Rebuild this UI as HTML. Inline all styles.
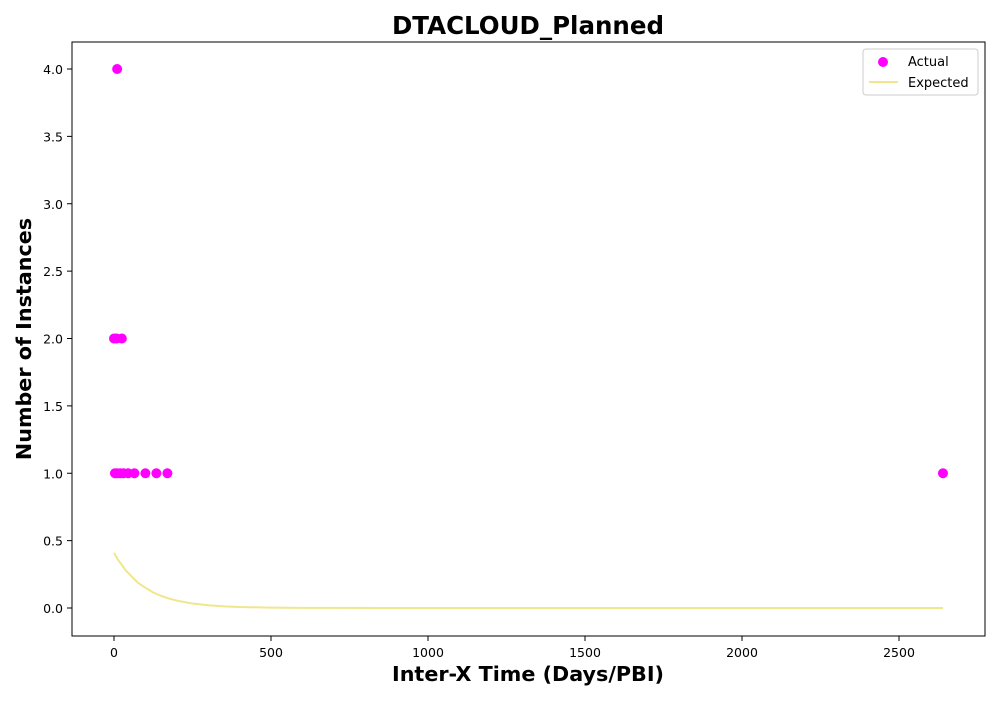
<!DOCTYPE html>
<html><head><meta charset="utf-8"><style>
body{margin:0;background:#fff;font-family:"DejaVu Sans","Liberation Sans",sans-serif}
</style></head><body>
<svg id="chart" width="1000" height="700" xmlns="http://www.w3.org/2000/svg">
<rect width="1000" height="700" fill="#fff"/>
<text x="528" y="34" text-anchor="middle" font-size="24.5" font-weight="bold">DTACLOUD_Planned</text>
<text x="528" y="681" text-anchor="middle" font-size="20.7" font-weight="bold">Inter-X Time (Days/PBI)</text>
<text transform="translate(31,339) rotate(-90)" text-anchor="middle" font-size="20.7" font-weight="bold">Number of Instances</text>
<g id="xticks"></g>
<g id="yticks"></g>
<g id="marks"></g>
<rect x="72" y="42" width="913" height="594" fill="none" stroke="#000" stroke-width="1"/>
<g>
<rect x="863" y="49" width="115" height="46" fill="#fff" stroke="#ccc" rx="3"/>
<circle cx="883" cy="62" r="5" fill="#ff00ff"/>
<text x="908" y="66" font-size="13">Actual</text>
<line x1="869" y1="82" x2="898" y2="82" stroke="#f0e68c" stroke-width="2"/>
<text x="908" y="87" font-size="13">Expected</text>
</g>
</svg>
<script>
const actualX=[0,8,25,10,3,10,20,30,45,65,100,135,170,2640];
const actualY=[2,2,2,4,1,1,1,1,1,1,1,1,1,1];
const expX=[0,12,25,37,50,62,75,87,100,125,150,175,200,250,300,350,400,500,600,700,1000,1500,2000,2640];
const expY=[0.41,0.36,0.32,0.28,0.25,0.22,0.19,0.17,0.15,0.115,0.09,0.07,0.055,0.033,0.02,0.012,0.007,0.003,0.0012,0.0005,0,0,0,0];
const xTicks=[0,500,1000,1500,2000,2500];
const yTicks=[0,0.5,1,1.5,2,2.5,3,3.5,4];
const sx=v=>114+v*0.314;
const sy=v=>608-v*134.75;
const NS="http://www.w3.org/2000/svg";
function mk(t,a,p){const e=document.createElementNS(NS,t);for(const k in a)e.setAttribute(k,a[k]);p.appendChild(e);return e;}
const gx=document.getElementById('xticks'),gy=document.getElementById('yticks'),gm=document.getElementById('marks');
xTicks.forEach(v=>{
 const l=mk('line',{x1:sx(v),x2:sx(v),y1:636,y2:641,stroke:'#000'},gx);
 
 
 const t=mk('text',{x:sx(v),y:657,'text-anchor':'middle','font-size':12.5},gx);t.textContent=v;
 
 
});
yTicks.forEach(v=>{
 const l=mk('line',{x1:67,x2:72,y1:sy(v),y2:sy(v),stroke:'#000'},gy);
 
 
 const t=mk('text',{x:63,y:sy(v)+5,'text-anchor':'end','font-size':12.5},gy);t.textContent=v.toFixed(1);
 
 
});
const path=mk('polyline',{points:expX.map((x,i)=>sx(x)+','+sy(expY[i])).join(' '),fill:'none',stroke:'#f0e68c','stroke-width':2,'stroke-linejoin':'round'},gm);


actualX.forEach((x,i)=>{
 const c=mk('circle',{cx:sx(x),cy:sy(actualY[i]),r:5,fill:'#ff00ff'},gm);
 
 
});
</script>
</body></html>
